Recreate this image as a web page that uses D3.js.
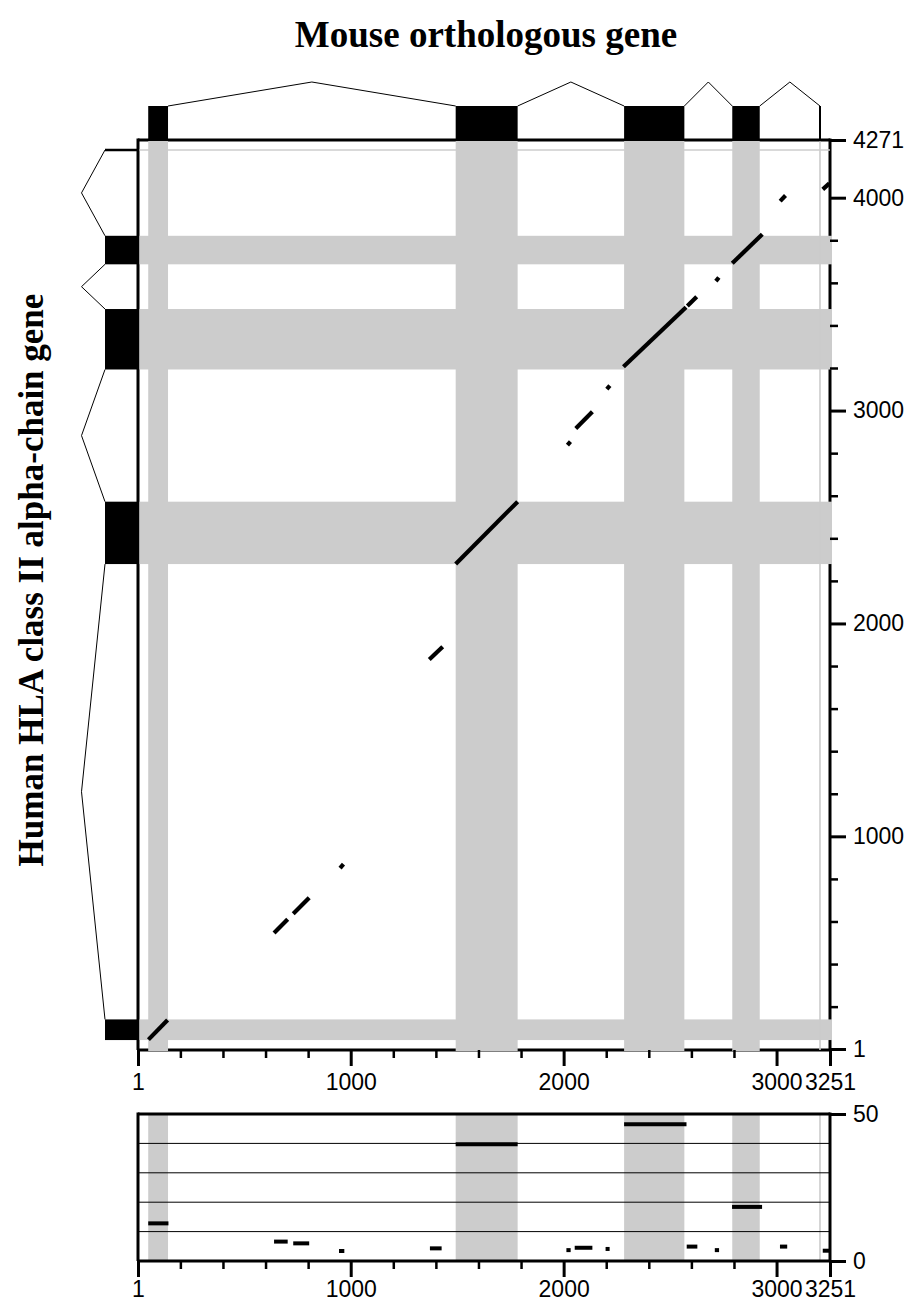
<!DOCTYPE html>
<html><head><meta charset="utf-8">
<script src="https://cdn.jsdelivr.net/npm/d3@7"></script>
<style>body{margin:0;background:#fff} svg{display:block}</style>
</head><body>
<svg id="c" width="907" height="1304"></svg>
<script>
// ---------- data ----------
const mouseLength = 3251;
const humanLength = 4271;
const mouseGene = [49, 3204];
const humanGene = [43, 4224];
const mouseExons = [[49,142],[1493,1784],[2284,2567],[2792,2921]];
const humanExons = [[43,140],[2279,2572],[3193,3477],[3687,3821]];
// aligned segments: [mouseStart, mouseEnd, humanStart, humanEnd]
const alignments = [
  [50,140,45,137],
  [640,704,546,610],
  [730,805,636,711],
  [950,966,851,869],
  [1369,1432,1831,1891],
  [1493,1784,2279,2572],
  [2018,2032,2838,2854],
  [2057,2135,2916,2994],
  [2203,2217,3101,3117],
  [2281,2575,3206,3485],
  [2581,2625,3491,3535],
  [2715,2729,3608,3625],
  [2792,2933,3692,3828],
  [3017,3042,3984,4010],
  [3217,3248,4039,4067]
];
// lower panel: [mouseStart, mouseEnd, value]
const scores = [
  [49,144,12.8],[640,704,6.6],[730,805,6.0],[945,970,3.4],[1372,1427,4.3],
  [1493,1784,39.7],[2013,2033,3.7],[2052,2135,4.5],[2197,2216,4.1],
  [2284,2577,46.5],[2578,2628,4.9],[2710,2730,3.7],[2791,2932,18.4],
  [3016,3050,4.9],[3217,3251,3.5]
];
const xMajor = [1,1000,2000,3000,3251];
const xMinor = [200,400,600,800,1200,1400,1600,1800,2200,2400,2600,2800];
const yMajor = [1,1000,2000,3000,4000,4271];
const yMinor = [200,400,600,800,1200,1400,1600,1800,2200,2400,2600,2800,3200,3400,3600,3800];
const scoreTicks = [0,50];
const scoreGrid = [10,20,30,40];
const titleText = "Mouse orthologous gene";
const yLabelText = "Human HLA class II alpha-chain gene";

// ---------- drawing ----------
const svg = d3.select("#c");
const GRAY = "#cccccc";
const x = d3.scaleLinear().domain([1, mouseLength]).range([138, 830]);
const y = d3.scaleLinear().domain([1, humanLength]).range([1049, 140]);
const yb = d3.scaleLinear().domain([0, 50]).range([1261, 1114]);
const FONT = "'Liberation Sans', Arial, Helvetica, sans-serif";
const SERIF = "'Liberation Serif', 'Times New Roman', Times, serif";
const mainTop = 140, mainBottom = 1050;
const LABEL_SIZE = "23px";

// frame of main plot
const frame = svg.append("g").attr("stroke","#000").attr("stroke-width",3).attr("fill","none");
frame.append("line").attr("x1",x(1)).attr("x2",x(1)).attr("y1",mainTop-1.5).attr("y2",mainBottom);
frame.append("line").attr("x1",x(1)).attr("x2",x(mouseLength)).attr("y1",mainTop).attr("y2",mainTop);
frame.append("line").attr("x1",x(mouseLength)).attr("x2",x(mouseLength)).attr("y1",mainTop-1.5).attr("y2",mainBottom);
frame.append("line").attr("x1",x(1)).attr("x2",x(mouseLength)).attr("y1",mainBottom).attr("y2",mainBottom);

// gray exon bands
const bands = svg.append("g").attr("fill",GRAY);
bands.selectAll("rect.v").data(mouseExons).join("rect").attr("class","v")
  .attr("x",d=>x(d[0])).attr("width",d=>x(d[1])-x(d[0]))
  .attr("y",mainTop+1).attr("height",mainBottom-mainTop);
bands.selectAll("rect.h").data(humanExons).join("rect").attr("class","h")
  .attr("x",x(1)+1.5).attr("width",x(mouseLength)-x(1)+0.5)
  .attr("y",d=>y(d[1])).attr("height",d=>y(d[0])-y(d[1]));
// gene end light lines
svg.append("line").attr("x1",x(mouseGene[1])).attr("x2",x(mouseGene[1]))
  .attr("y1",mainTop+1.5).attr("y2",mainBottom).attr("stroke",GRAY).attr("stroke-width",1.6);
svg.append("line").attr("x1",x(1)+1.5).attr("x2",x(mouseLength)).attr("y1",y(humanGene[1])).attr("y2",y(humanGene[1]))
  .attr("stroke",GRAY).attr("stroke-width",1.6);

// mouse gene structure (top)
const topBase = mainTop, boxH = 34, peak = 24;
const gm = svg.append("g");
gm.selectAll("rect").data(mouseExons).join("rect")
  .attr("x",d=>x(d[0])).attr("width",d=>x(d[1])-x(d[0]))
  .attr("y",topBase-boxH).attr("height",boxH).attr("fill","#000");
const mIntrons = [];
for (let i=0;i<mouseExons.length;i++){
  const s = mouseExons[i][1];
  const e = i<mouseExons.length-1 ? mouseExons[i+1][0] : mouseGene[1];
  mIntrons.push([s,e]);
}
gm.selectAll("polyline").data(mIntrons).join("polyline")
  .attr("points",d=>[[x(d[0]),topBase-boxH],[x((d[0]+d[1])/2),topBase-boxH-peak],[x(d[1]),topBase-boxH]].join(" "))
  .attr("fill","none").attr("stroke","#000").attr("stroke-width",1);
gm.append("line").attr("x1",x(mouseGene[1])).attr("x2",x(mouseGene[1]))
  .attr("y1",topBase-boxH).attr("y2",topBase).attr("stroke","#000").attr("stroke-width",2);

// human gene structure (left)
const leftBase = x(1), boxW = 33;
const gh = svg.append("g");
gh.selectAll("rect").data(humanExons).join("rect")
  .attr("x",leftBase-boxW).attr("width",boxW)
  .attr("y",d=>y(d[1])).attr("height",d=>y(d[0])-y(d[1])).attr("fill","#000");
const hIntrons = [];
for (let i=0;i<humanExons.length;i++){
  const s = humanExons[i][1];
  const e = i<humanExons.length-1 ? humanExons[i+1][0] : humanGene[1];
  hIntrons.push([s,e]);
}
gh.selectAll("polyline").data(hIntrons).join("polyline")
  .attr("points",d=>[[leftBase-boxW,y(d[0])],[leftBase-boxW-peak+0.5,y((d[0]+d[1])/2)],[leftBase-boxW,y(d[1])]].join(" "))
  .attr("fill","none").attr("stroke","#000").attr("stroke-width",1);
gh.append("line").attr("x1",leftBase-boxW).attr("x2",leftBase)
  .attr("y1",y(humanGene[1])).attr("y2",y(humanGene[1])).attr("stroke","#000").attr("stroke-width",2.5);

// alignment segments
svg.append("g").selectAll("line").data(alignments).join("line")
  .attr("x1",d=>x(d[0])).attr("x2",d=>x(d[1]))
  .attr("y1",d=>y(d[2])).attr("y2",d=>y(d[3]))
  .attr("stroke","#000").attr("stroke-width",4.2);

// axes main
function styleAxis(g, w){
  g.select(".domain").remove();
  g.selectAll(".tick line").attr("stroke","#000").attr("stroke-width",w);
  g.selectAll(".tick text").attr("fill","#000").style("font-family",FONT).style("font-size",LABEL_SIZE);
}
const fmt = d3.format("d");
svg.append("g").attr("transform",`translate(0,${mainBottom})`)
  .call(d3.axisBottom(x).tickValues(xMajor).tickSize(16).tickPadding(8).tickFormat(fmt))
  .call(g=>styleAxis(g,3));
svg.append("g").attr("transform",`translate(0,${mainBottom})`)
  .call(d3.axisBottom(x).tickValues(xMinor).tickSize(8).tickFormat(""))
  .call(g=>styleAxis(g,2.5));
svg.append("g").attr("transform",`translate(${x(mouseLength)},0)`)
  .call(d3.axisRight(y).tickValues(yMajor).tickSize(16).tickPadding(7).tickFormat(fmt))
  .call(g=>styleAxis(g,3));
svg.append("g").attr("transform",`translate(${x(mouseLength)},0)`)
  .call(d3.axisRight(y).tickValues(yMinor).tickSize(8).tickFormat(""))
  .call(g=>styleAxis(g,2.5));

// ---------- lower panel ----------
const lp = svg.append("g");
lp.append("g").attr("fill",GRAY).selectAll("rect").data(mouseExons).join("rect")
  .attr("x",d=>x(d[0])).attr("width",d=>x(d[1])-x(d[0]))
  .attr("y",yb(50)).attr("height",yb(0)-yb(50));
lp.append("line").attr("x1",x(mouseGene[1])).attr("x2",x(mouseGene[1]))
  .attr("y1",yb(50)).attr("y2",yb(0)).attr("stroke",GRAY).attr("stroke-width",1.6);
lp.append("g").selectAll("line").data(scoreGrid).join("line")
  .attr("x1",x(1)).attr("x2",x(mouseLength)).attr("y1",d=>yb(d)).attr("y2",d=>yb(d))
  .attr("stroke","#000").attr("stroke-width",1);
const lf = lp.append("g").attr("stroke","#000").attr("stroke-width",3);
lf.append("line").attr("x1",x(1)).attr("x2",x(mouseLength)).attr("y1",yb(50)).attr("y2",yb(50));
lf.append("line").attr("x1",x(1)).attr("x2",x(mouseLength)).attr("y1",yb(0)).attr("y2",yb(0));
lf.append("line").attr("x1",x(1)).attr("x2",x(1)).attr("y1",yb(50)-1.5).attr("y2",yb(0));
lf.append("line").attr("x1",x(mouseLength)).attr("x2",x(mouseLength)).attr("y1",yb(50)-1.5).attr("y2",yb(0));
lp.append("g").selectAll("line").data(scores).join("line")
  .attr("x1",d=>x(d[0])).attr("x2",d=>x(d[1])).attr("y1",d=>yb(d[2])).attr("y2",d=>yb(d[2]))
  .attr("stroke","#000").attr("stroke-width",4);
svg.append("g").attr("transform",`translate(0,${yb(0)})`)
  .call(d3.axisBottom(x).tickValues(xMajor).tickSize(16).tickPadding(4).tickFormat(fmt))
  .call(g=>styleAxis(g,3));
svg.append("g").attr("transform",`translate(0,${yb(0)})`)
  .call(d3.axisBottom(x).tickValues(xMinor).tickSize(8).tickFormat(""))
  .call(g=>styleAxis(g,2.5));
svg.append("g").attr("transform",`translate(${x(mouseLength)},0)`)
  .call(d3.axisRight(yb).tickValues(scoreTicks).tickSize(16).tickPadding(7).tickFormat(fmt))
  .call(g=>styleAxis(g,3));

// titles
svg.append("text").attr("x",486).attr("y",47).attr("text-anchor","middle")
  .style("font-family",SERIF).style("font-weight","bold").style("font-size","37px").text(titleText);
svg.append("text").attr("transform","translate(43,580) rotate(-90)").attr("text-anchor","middle")
  .style("font-family",SERIF).style("font-weight","bold").style("font-size","35px").text(yLabelText);
</script>
</body></html>
